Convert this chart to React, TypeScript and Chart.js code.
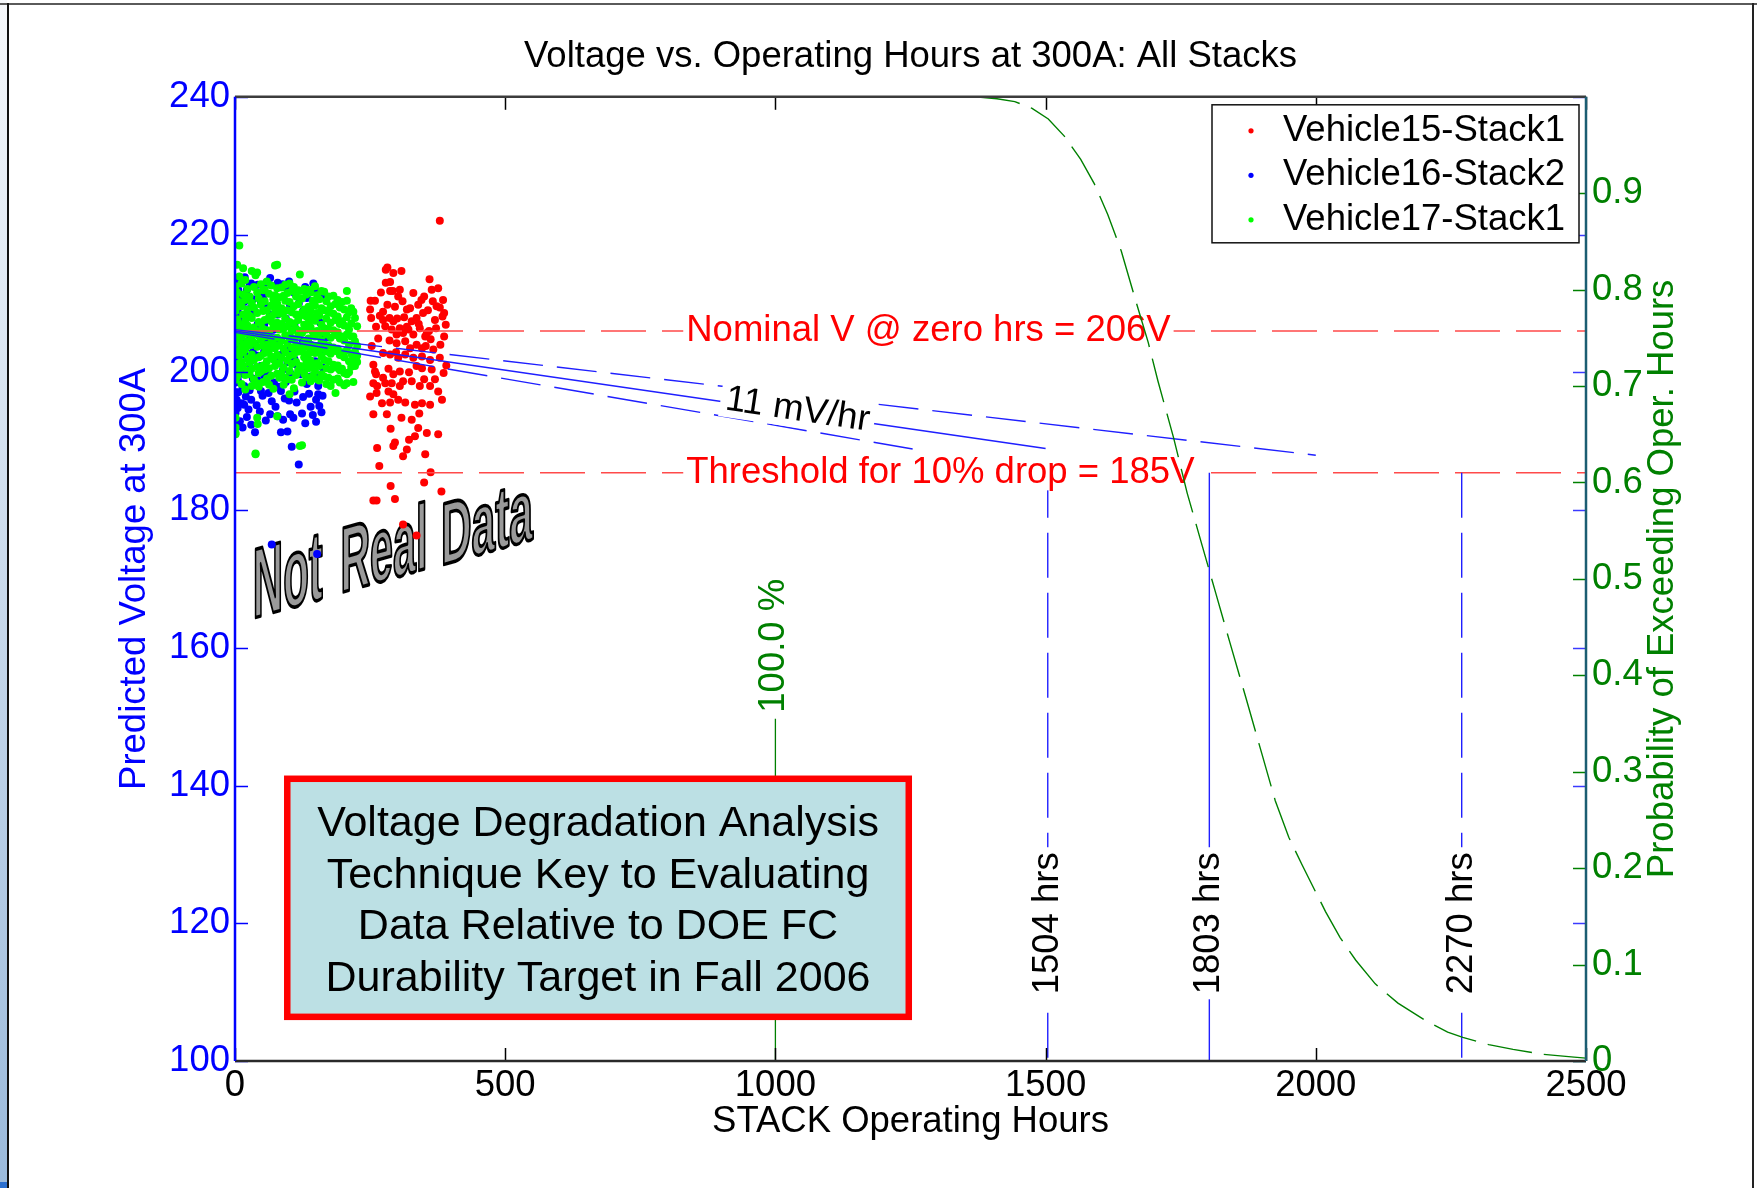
import React, { useEffect, useRef } from 'react';
import { Chart, registerables } from 'chart.js';

Chart.register(...registerables);

type Pt = [number, number];

// ---------------- text ----------------
const chartTitle = 'Voltage vs. Operating Hours at 300A: All Stacks';
const xAxisTitle = 'STACK Operating Hours';
const yAxisTitle = 'Predicted Voltage at 300A';
const y2AxisTitle = 'Probability of Exceeding Oper. Hours';
const seriesNames = ['Vehicle15-Stack1', 'Vehicle16-Stack2', 'Vehicle17-Stack1'];
const seriesColors = ['#ff0000', '#0000ff', '#00ff00'];
const keyBoxLines = [
  'Voltage Degradation Analysis',
  'Technique Key to Evaluating',
  'Data Relative to DOE FC',
  'Durability Target in Fall 2006',
];
const watermarkWords = ['Not', 'Real', 'Data'];

// ---------------- ticks ----------------
const xTickValues = [0, 500, 1000, 1500, 2000, 2500];
const yTickValues = [100, 120, 140, 160, 180, 200, 220, 240];
const y2TickValues = [0, 0.1, 0.2, 0.3, 0.4, 0.5, 0.6, 0.7, 0.8, 0.9];

// ---------------- data ----------------
const vehicle15Points: Pt[] = [
  [379, 222.0], [279, 214.9], [282, 215.2], [293, 214.4], [308, 214.7], [279, 213.0], [287, 213.1], [305, 212.0],
  [287, 211.8], [292, 211.8], [364, 212.0], [376, 212.2],
  [251, 210.4], [259, 210.4], [250, 209.1], [274, 208.8], [282, 209.8], [310, 210.3], [318, 209.1], [324, 209.3],
  [339, 209.8], [345, 210.5], [350, 211.0], [366, 210.3], [373, 209.6], [379, 209.4], [387, 208.6], [384, 208.1],
  [274, 207.6], [286, 207.9], [293, 207.4], [305, 206.4], [318, 206.6], [327, 207.4], [336, 207.9], [348, 208.6],
  [370, 207.6], [278, 206.7], [290, 206.2], [299, 205.5], [311, 205.7], [321, 206.2], [330, 205.5], [342, 206.4],
  [352, 205.2], [355, 205.7], [372, 206.4], [387, 205.2], [261, 206.6],
  [286, 204.6], [299, 204.2], [315, 204.5], [324, 203.5], [336, 204.0], [346, 203.5], [353, 203.8], [253, 203.8],
  [274, 202.8], [287, 202.6], [302, 202.1], [315, 202.6], [330, 202.1], [346, 202.3], [361, 201.8], [379, 202.1],
  [256, 201.1], [259, 200.1], [261, 199.7], [274, 199.2], [293, 199.7], [305, 200.1], [311, 198.7], [336, 200.9],
  [346, 200.6], [364, 200.4], [386, 199.9], [256, 198.4], [263, 198.0], [278, 198.4], [290, 198.4], [305, 198.0],
  [327, 198.7], [342, 198.0], [361, 198.0], [376, 197.2], [284, 197.2], [293, 196.8], [262, 197.0],
  [302, 196.0], [287, 195.6], [315, 195.6], [333, 195.3], [346, 195.5], [361, 195.3], [256, 193.9], [281, 193.9],
  [308, 193.4], [327, 193.1], [339, 191.9], [355, 191.2], [333, 190.7], [376, 191.0], [296, 189.8], [293, 189.3],
  [318, 188.8], [311, 187.8], [263, 189.0], [352, 188.1], [267, 186.4], [362, 185.5], [350, 184.0], [288, 183.5],
  [256, 181.4], [262, 181.4], [296, 181.6], [382, 182.7], [311, 177.9], [336, 176.3],
  [296, 209.5], [302, 211.0], [330, 211.5], [357, 209.0], [362, 204.8], [367, 203.3], [380, 204.0], [390, 206.9],
  [391, 201.0], [265, 204.9], [268, 208.2], [300, 207.8], [313, 208.0], [340, 207.0], [359, 206.0], [322, 200.0],
  [350, 199.0], [284, 200.5], [298, 202.9], [370, 199.0], [383, 196.0], [288, 191.8], [322, 190.2], [341, 194.0],
  [272, 195.5], [250, 196.5], [385, 210.5], [360, 213.5], [270, 211.6], [252, 207.9],
];

// [hours, volts at that hour]
const vehicle16Columns: [number, number[]][] = [
  [1, [213.0, 211.2, 209.3, 208.1, 206.5, 204.8, 202.1, 200.6, 198.5, 197.1, 194.1]],
  [3, [210.8, 207.2, 203.3, 199.5, 196.0, 192.9]],
  [5, [199.0, 194.8]],
  [6, [212.0, 208.6, 205.5, 201.8, 197.1, 195.5]],
  [9, [213.4, 209.9, 206.8, 203.0, 199.8, 192.9]],
  [12, [213.4, 211.0, 207.5, 204.3, 201.0, 195.5]],
  [14, [197.8, 192.0]],
  [17, [210.2, 205.9, 202.6, 198.0, 195.3]],
  [18, [213.8]],
  [20, [196.5]],
  [22, [212.0, 208.0, 203.9, 200.0, 193.5]],
  [25, [194.6]],
  [27, [212.6, 209.2, 204.7, 201.3, 197.4]],
  [30, [212.9, 196.0, 192.4]],
  [33, [210.6, 206.1, 202.9, 199.1]],
  [37, [208.8, 204.0, 191.3]],
  [40, [195.2]],
  [42, [212.7, 207.0, 202.4, 198.8]],
  [46, [194.3]],
  [48, [210.1, 205.2, 200.9, 197.3]],
  [51, [196.6]],
  [54, [211.3, 206.9, 203.0, 199.5]],
  [57, [193.0]],
  [58, [213.0]],
  [60, [209.5, 204.4, 200.3]],
  [62, [197.0]],
  [65, [213.7, 208.3, 203.6, 193.9]],
  [68, [195.8, 175.0]],
  [72, [210.7, 206.2, 201.9, 198.5]],
  [75, [195.0]],
  [79, [213.0, 208.4, 204.1, 193.6]],
  [81, [197.9]],
  [85, [209.0, 202.5, 197.3, 191.3]],
  [88, [212.8]],
  [89, [206.6, 200.4, 193.1]],
  [92, [196.2]],
  [94, [212.3, 207.8, 203.2, 198.6]],
  [97, [201.5, 191.4]],
  [100, [213.2, 195.9]],
  [102, [209.7, 205.1, 199.9, 193.9]],
  [105, [203.4, 189.2]],
  [108, [193.4]],
  [110, [211.5, 207.0, 201.9, 197.2]],
  [114, [201.1, 195.6]],
  [118, [210.0, 206.0, 186.6]],
  [120, [203.7, 199.7]],
  [124, [194.0]],
  [126, [208.9, 204.5, 200.2, 196.4]],
  [130, [212.4, 192.6]],
  [133, [210.8, 206.4, 202.3, 198.3]],
  [137, [196.9]],
  [140, [208.0, 203.8, 199.4, 195.0]],
  [144, [193.8]],
  [145, [212.9]],
  [148, [212.0, 205.6, 201.6]],
  [150, [196.0, 192.8]],
  [152, [199.2, 173.6]],
  [154, [198.0, 196.8]],
  [156, [195.1]],
  [158, [207.2, 203.1]],
  [160, [194.2]],
  [162, [200.7, 196.6]],
  [165, [211.1, 205.0]],
];

const vehicle17Columns: [number, number[]][] = [
  [1, [212.5, 210.8, 208.9, 206.4, 204.2, 202.7, 199.2, 198.9, 193.4, 192.0, 191.0, 191.2]],
  [4, [215.6, 211.6, 209.5, 207.7, 205.3, 203.1, 201.2, 199.4]],
  [8, [218.4, 213.9, 210.2, 207.0, 204.8, 202.4, 200.3]],
  [12, [212.9, 209.6, 206.9, 205.1, 203.6, 201.5, 198.3]],
  [15, [215.1, 211.3, 208.4, 206.2, 204.0, 202.9, 200.9]],
  [19, [213.4, 210.5, 207.5, 205.6, 203.3, 199.6, 197.5]],
  [23, [212.1, 209.1, 206.8, 204.5, 202.0, 200.2]],
  [27, [211.0, 208.2, 205.9, 203.9, 201.4, 199.7]],
  [31, [214.7, 210.1, 207.9, 205.1, 202.6, 200.5, 198.0]],
  [35, [212.4, 209.4, 206.5, 204.3, 201.8, 199.0]],
  [38, [214.1, 188.1, 188.2]],
  [41, [214.5, 211.6, 208.6, 206.0, 203.7, 200.8, 198.4, 193.4]],
  [42, [192.5]],
  [44, [210.7, 207.3, 205.3, 202.2, 199.9, 197.9]],
  [48, [212.8, 209.8, 207.1, 204.7, 202.4, 200.1]],
  [52, [211.9, 208.9, 206.3, 203.8, 201.0, 198.6]],
  [55, [212.0, 210.3, 207.6, 205.2, 202.8, 200.4]],
  [59, [213.2, 209.0, 206.1, 204.0, 201.6, 199.1]],
  [63, [211.4, 208.0, 205.8, 203.2, 200.6, 198.2]],
  [67, [212.6, 209.7, 207.4, 204.9, 202.3, 199.5]],
  [71, [210.6, 208.3, 206.6, 204.1, 201.9, 197.6]],
  [74, [215.5, 211.2, 209.2, 206.9, 203.5, 200.9]],
  [78, [215.6, 212.2, 210.0, 207.2, 205.0, 202.5, 199.8, 193.6]],
  [82, [210.9, 208.5, 206.2, 203.9, 201.3, 199.2]],
  [86, [212.3, 209.3, 207.0, 204.6, 202.1, 199.9]],
  [90, [211.1, 208.8, 206.4, 203.4, 200.7, 198.2]],
  [93, [212.7, 210.4, 207.8, 205.4, 202.9, 199.2]],
  [97, [211.5, 209.0, 206.7, 204.2, 201.7, 199.0]],
  [101, [212.9, 210.2, 207.3, 205.0, 202.4, 200.2, 196.8]],
  [105, [211.8, 208.7, 206.0, 203.6, 201.2, 198.9]],
  [109, [212.4, 209.6, 207.1, 204.8, 202.6, 197.7]],
  [113, [211.0, 208.4, 206.3, 204.0, 201.5, 199.6]],
  [117, [211.9, 209.9, 207.6, 205.3, 203.0, 200.3]],
  [120, [214.2, 211.8, 208.2, 206.0, 203.5, 200.9, 189.3]],
  [124, [210.7, 208.6, 205.7, 203.1, 200.8, 198.5, 189.4]],
  [128, [212.1, 209.1, 206.9, 204.4, 202.2, 199.8]],
  [132, [211.3, 208.1, 206.2, 203.7, 201.4, 199.3]],
  [136, [212.0, 209.5, 207.2, 204.9, 202.7, 200.6]],
  [140, [211.6, 208.9, 206.5, 204.0, 201.7, 198.7]],
  [144, [210.4, 208.0, 205.9, 203.3, 201.1, 199.5]],
  [148, [212.5, 209.7, 207.5, 205.2, 202.8, 200.2]],
  [152, [211.2, 208.6, 206.0, 203.8, 201.3, 199.0]],
  [156, [210.6, 208.2, 205.6, 203.2, 200.9, 198.8]],
  [160, [211.8, 209.3, 206.9, 204.6, 202.3, 199.7]],
  [165, [211.7, 209.0, 206.4, 204.1, 201.8, 199.4]],
  [169, [210.3, 207.8, 205.5, 203.0, 200.6, 198.3]],
  [173, [211.0, 208.7, 206.3, 203.9, 201.6, 199.2]],
  [177, [209.6, 207.2, 205.0, 202.7, 200.4, 198.0]],
  [182, [211.1, 208.5, 206.1, 203.6, 201.1, 198.9]],
  [186, [209.9, 207.6, 205.4, 203.1, 200.7, 197.0]],
  [190, [210.5, 208.1, 205.8, 203.4, 201.0, 199.1]],
  [194, [209.4, 207.0, 204.9, 202.5, 200.3, 198.5]],
  [198, [210.2, 207.4, 205.2, 202.9, 200.5]],
  [202, [209.1, 206.8, 204.6, 202.2, 199.9, 198.1]],
  [207, [211.8, 210.4, 208.0, 205.5, 203.2, 199.7, 198.4]],
  [211, [208.7, 206.2, 204.0, 201.6, 200.0]],
  [215, [209.3, 207.1, 205.2, 202.7, 200.8]],
  [219, [208.8, 205.2, 202.1, 201.1, 198.6]],
  [222, [207.9, 204.5, 203.0, 200.9]],
  [226, [206.7, 203.8, 202.4, 201.5]],
];

const nominalVolts = 206.0;
const thresholdVolts = 185.4;
const fitUpper: Pt[] = [[0, 206.2], [2000, 187.96]];
const fitMean: Pt[] = [[0, 206.0], [1500, 188.94]];
const fitLower: Pt[] = [[0, 205.8], [1254, 188.87]];
const crossingHours = [1504, 1803, 2270];
const crossingDashed = [true, false, true];

const probCurve: Pt[] = [
  [1370, 1.0], [1410, 0.998], [1443, 0.995], [1475, 0.988], [1505, 0.977], [1535, 0.959], [1565, 0.935],
  [1590, 0.91], [1615, 0.878], [1640, 0.84], [1667, 0.788], [1690, 0.745], [1708, 0.705], [1737, 0.646],
  [1762, 0.589], [1790, 0.534], [1815, 0.485], [1840, 0.436], [1870, 0.378], [1900, 0.319], [1925, 0.27],
  [1950, 0.232], [1975, 0.203], [2000, 0.175], [2018, 0.155], [2045, 0.128], [2074, 0.1045], [2110, 0.08],
  [2152, 0.06], [2200, 0.043], [2244, 0.03], [2272, 0.0245], [2320, 0.017], [2365, 0.012], [2420, 0.007],
  [2478, 0.004], [2500, 0.003],
];
const probMarker: Pt[] = [[1000, 0], [1000, 0.355]];
const probMarkerLabel = '100.0 %';
const slopeLabel = '11 mV/hr';
const nominalLabel = 'Nominal V @ zero hrs = 206V';
const thresholdLabel = 'Threshold for 10% drop = 185V';

// ---------------- styling / layout ----------------
const FONT = "'Liberation Sans', Arial, Helvetica, sans-serif";
const fnt = (size: number, weight = 'normal') => `${weight} ${size}px ${FONT}`;
const BASE = 36.5;

const toXY = (pts: Pt[]) => pts.map(([x, y]) => ({ x, y }));
const fromColumns = (cols: [number, number[]][]) => cols.flatMap(([h, vs]) => vs.map((v) => ({ x: h, y: v })));

function textWithBg(ctx: CanvasRenderingContext2D, text: string, x: number, y: number, o: any) {
  ctx.save();
  ctx.translate(x, y);
  if (o.rot) ctx.rotate(o.rot);
  ctx.font = fnt(o.size);
  const w = ctx.measureText(text).width;
  const x0 = o.align === 'left' ? 0 : o.align === 'center' ? -w / 2 : -w;
  if (o.bg) {
    const pad = o.pad ?? 3;
    ctx.fillStyle = '#ffffff';
    ctx.fillRect(x0 - pad, -o.size * 0.52, w + 2 * pad, o.size * 1.0);
  }
  ctx.fillStyle = o.color;
  ctx.textAlign = o.align;
  ctx.textBaseline = 'middle';
  ctx.fillText(text, 0, 0);
  ctx.restore();
}

function seg(ctx: CanvasRenderingContext2D, x1: number, y1: number, x2: number, y2: number, color: string, w = 1.5) {
  ctx.beginPath();
  ctx.strokeStyle = color;
  ctx.lineWidth = w;
  ctx.moveTo(x1, y1);
  ctx.lineTo(x2, y2);
  ctx.stroke();
}

const overlayPlugin = {
  id: 'overlay',
  beforeDatasetsDraw(chart: any) {
    const { ctx } = chart;
    const xs = chart.scales.x;
    const ys = chart.scales.y;
    // "Not Real Data" word-art (hours, volts anchor; pixel width; font size)
    const words = [
      { h: 33, v: 164.3, width: 70, size: 99 },
      { h: 195, v: 168.0, width: 87, size: 93 },
      { h: 381, v: 172.0, width: 92, size: 88 },
    ];
    words.forEach((wd, i) => {
      ctx.save();
      ctx.translate(xs.getPixelForValue(wd.h), ys.getPixelForValue(wd.v));
      ctx.transform(1, -0.283, 0, 1, 0, 0);
      ctx.font = fnt(wd.size, 'bold');
      const w = ctx.measureText(watermarkWords[i]).width;
      ctx.scale(wd.width / w, 1);
      ctx.textAlign = 'left';
      ctx.textBaseline = 'alphabetic';
      ctx.fillStyle = '#9a9a9a';
      ctx.fillText(watermarkWords[i], 0, 0);
      ctx.lineWidth = 3.6;
      ctx.strokeStyle = '#000';
      ctx.lineJoin = 'round';
      ctx.strokeText(watermarkWords[i], 0, 0);
      ctx.restore();
    });
  },
  beforeDatasetDraw(chart: any, args: any) {
    const ds = chart.data.datasets[args.index];
    if (ds.label !== 'prob') return;
    const { ctx } = chart;
    const xs = chart.scales.x;
    const ys = chart.scales.y;
    const y2 = chart.scales.y2;
    textWithBg(ctx, nominalLabel, xs.getPixelForValue(835), ys.getPixelForValue(nominalVolts), { align: 'left', color: '#ff0000', size: BASE, bg: true });
    textWithBg(ctx, thresholdLabel, xs.getPixelForValue(835), ys.getPixelForValue(thresholdVolts), { align: 'left', color: '#ff0000', size: BASE, bg: true });
    textWithBg(ctx, slopeLabel, xs.getPixelForValue(1041), ys.getPixelForValue(194.5), { align: 'center', color: '#000', size: BASE, bg: true, rot: (8.5 * Math.PI) / 180, pad: 5 });
    crossingHours.forEach((h) => {
      textWithBg(ctx, `${h} hrs`, xs.getPixelForValue(h), ys.getPixelForValue(120), { align: 'center', color: '#000', size: BASE, bg: true, rot: -Math.PI / 2, pad: 5 });
    });
    textWithBg(ctx, probMarkerLabel, xs.getPixelForValue(probMarker[1][0]) - 1, y2.getPixelForValue(probMarker[1][1]) - 6, { align: 'left', color: '#008000', size: BASE, rot: -Math.PI / 2 });
  },
  afterDatasetsDraw(chart: any) {
    const { ctx, chartArea } = chart;
    const { left, right, top, bottom } = chartArea;
    const xs = chart.scales.x;
    const ys = chart.scales.y;
    const y2 = chart.scales.y2;
    const TL = 13;
    ctx.save();
    yTickValues.forEach((v) => {
      const y = Math.round(ys.getPixelForValue(v)) + 0.5;
      seg(ctx, left, y, left + TL, y, '#0000ff');
      seg(ctx, right - TL, y, right, y, '#3a3aff');
    });
    y2TickValues.forEach((v) => {
      const y = Math.round(y2.getPixelForValue(v)) + 0.5;
      seg(ctx, right - TL, y, right, y, '#008000');
    });
    xTickValues.forEach((v) => {
      const x = Math.round(xs.getPixelForValue(v)) + 0.5;
      seg(ctx, x, top, x, top + TL, '#000');
      seg(ctx, x, bottom - TL, x, bottom, '#000');
    });
    seg(ctx, left, top, right, top, '#3c3c3c', 2.5);
    seg(ctx, left, bottom, right, bottom, '#2a2a2a', 2.5);
    seg(ctx, left, top, left, bottom, '#0000ff', 2.5);
    seg(ctx, right, top, right, bottom, '#1b5d72', 2.5);

    // key message box
    const bx0 = xs.getPixelForValue(90.7);
    const bx1 = xs.getPixelForValue(1252.8);
    const by0 = ys.getPixelForValue(141.45);
    const by1 = ys.getPixelForValue(105.94);
    const bw = 6.5;
    ctx.fillStyle = '#ff0000';
    ctx.fillRect(bx0, by0, bx1 - bx0, by1 - by0);
    ctx.fillStyle = '#bce0e4';
    ctx.fillRect(bx0 + bw, by0 + bw, bx1 - bx0 - 2 * bw, by1 - by0 - 2 * bw);
    ctx.fillStyle = '#000';
    ctx.font = fnt(43);
    ctx.textAlign = 'center';
    ctx.textBaseline = 'middle';
    const cy = (by0 + by1) / 2;
    keyBoxLines.forEach((t, i) => {
      ctx.fillText(t, (bx0 + bx1) / 2, cy + (i - 1.5) * 51.5 + 4);
    });

    // legend
    const lw = 367;
    const lh = 138;
    const lx = right - 374;
    const ly = top + 8;
    ctx.fillStyle = '#fff';
    ctx.fillRect(lx, ly, lw, lh);
    ctx.strokeStyle = '#111';
    ctx.lineWidth = 1.5;
    ctx.strokeRect(lx, ly, lw, lh);
    seriesNames.forEach((name, i) => {
      const ry = ly + 26 + i * 44.5;
      ctx.beginPath();
      ctx.fillStyle = seriesColors[i];
      ctx.arc(lx + 39, ry, 2.6, 0, Math.PI * 2);
      ctx.fill();
      ctx.fillStyle = '#000';
      ctx.font = fnt(BASE);
      ctx.textAlign = 'left';
      ctx.textBaseline = 'middle';
      ctx.fillText(name, lx + 71, ry);
    });

    // right axis title (reads bottom to top)
    ctx.save();
    ctx.translate(1663, (top + bottom) / 2);
    ctx.rotate(-Math.PI / 2);
    ctx.fillStyle = '#008000';
    ctx.font = fnt(BASE);
    ctx.textAlign = 'center';
    ctx.textBaseline = 'middle';
    ctx.fillText(y2AxisTitle, 0, 0);
    ctx.restore();
    ctx.restore();
  },
};

function lineDs(data: Pt[], color: string, dash: number[], order: number, width = 1.4, yAxisID = 'y', label = '') {
  return {
    label,
    data: toXY(data),
    showLine: true,
    borderColor: color,
    backgroundColor: color,
    borderWidth: width,
    borderDash: dash,
    pointRadius: 0,
    pointHoverRadius: 0,
    tension: 0,
    fill: false,
    order,
    yAxisID,
  };
}

function scatterDs(label: string, data: any[], color: string, order: number) {
  return {
    label,
    data,
    showLine: false,
    backgroundColor: color,
    borderColor: color,
    borderWidth: 0,
    pointRadius: 4,
    pointHoverRadius: 4,
    order,
    yAxisID: 'y',
  };
}

export default function App() {
  const ref = useRef<HTMLCanvasElement>(null);

  useEffect(() => {
    const canvas = ref.current;
    if (!canvas) return;
    const tickFont = { family: FONT, size: BASE, weight: 'normal' as const };
    const datasets: any[] = [
      scatterDs(seriesNames[1], fromColumns(vehicle16Columns), seriesColors[1], 10),
      scatterDs(seriesNames[2], fromColumns(vehicle17Columns), seriesColors[2], 9),
      scatterDs(seriesNames[0], toXY(vehicle15Points), seriesColors[0], 8),
      lineDs([[0, nominalVolts], [2500, nominalVolts]], '#ff4a4a', [45, 16], 7, 1.5),
      lineDs([[0, thresholdVolts], [2500, thresholdVolts]], '#ff4a4a', [45, 16], 7, 1.5),
      lineDs(fitUpper, '#1f1fff', [40, 14], 6, 1.4),
      lineDs(fitMean, '#1f1fff', [], 6, 1.4),
      lineDs(fitLower, '#1f1fff', [40, 14], 6, 1.4),
      ...crossingHours.map((h, i) =>
        lineDs([[h, thresholdVolts], [h, 100]], '#1f1fff', crossingDashed[i] ? [45, 15] : [], 5, 1.4)
      ),
      lineDs(probMarker, '#008000', [], 5, 1.3, 'y2'),
      lineDs(probCurve, '#008000', [45, 12], 1, 1.4, 'y2', 'prob'),
    ];

    const chart = new Chart(canvas, {
      type: 'scatter',
      data: { datasets },
      plugins: [overlayPlugin as any],
      options: {
        responsive: false,
        animation: false,
        devicePixelRatio: 1,
        events: [],
        layout: { padding: 0 },
        plugins: {
          legend: { display: false },
          tooltip: { enabled: false },
          title: {
            display: true,
            text: chartTitle,
            fullSize: false,
            color: '#000',
            font: tickFont,
            padding: { top: 35, bottom: 18 },
          },
        },
        scales: {
          x: {
            type: 'linear',
            position: 'bottom',
            min: 0,
            max: 2500,
            grid: { display: false, drawTicks: false },
            border: { display: false },
            ticks: { stepSize: 500, color: '#000', font: tickFont, padding: 3, maxRotation: 0, callback: (v: any) => String(v) },
            title: { display: true, text: xAxisTitle, color: '#000', font: tickFont, padding: { top: 0, bottom: 44 } },
            afterFit: (s: any) => { s.height = 127; },
          },
          y: {
            type: 'linear',
            position: 'left',
            min: 100,
            max: 240,
            grid: { display: false, drawTicks: false },
            border: { display: false },
            ticks: { stepSize: 20, color: '#0000ff', font: tickFont, padding: 5, callback: (v: any) => String(v) },
            title: { display: true, text: yAxisTitle, color: '#0000ff', font: tickFont, padding: { top: 113, bottom: 0 } },
            afterFit: (s: any) => { s.width = 235; },
          },
          y2: {
            type: 'linear',
            position: 'right',
            min: 0,
            max: 1,
            grid: { display: false, drawTicks: false },
            border: { display: false },
            ticks: {
              stepSize: 0.1,
              color: '#008000',
              font: tickFont,
              padding: 6,
              callback: (v: any) => (Number(v) > 0.95 ? '' : String(Math.round(Number(v) * 10) / 10)),
            },
            afterFit: (s: any) => { s.width = 171; },
          },
        },
      } as any,
    });
    return () => chart.destroy();
  }, []);

  return (
    <div style={{ position: 'absolute', left: 0, top: 0, width: 1757, height: 1188, background: '#ffffff', overflow: 'hidden' }}>
      <canvas ref={ref} width={1757} height={1188} style={{ position: 'absolute', left: 0, top: 0, width: 1757, height: 1188 }} />
      <div style={{ position: 'absolute', left: 0, top: 0, width: 7, height: 1188, background: 'linear-gradient(to bottom, #f6f8fb, #9bbadb)' }} />
      <div style={{ position: 'absolute', left: 0, top: 1182, width: 7, height: 6, background: '#2b6fcf' }} />
      <div style={{ position: 'absolute', left: 0, top: 3, width: 1757, height: 2, background: '#5a5a5a' }} />
      <div style={{ position: 'absolute', left: 7, top: 3, width: 2, height: 1185, background: '#111' }} />
      <div style={{ position: 'absolute', left: 1752, top: 3, width: 2, height: 1185, background: '#222' }} />
    </div>
  );
}
